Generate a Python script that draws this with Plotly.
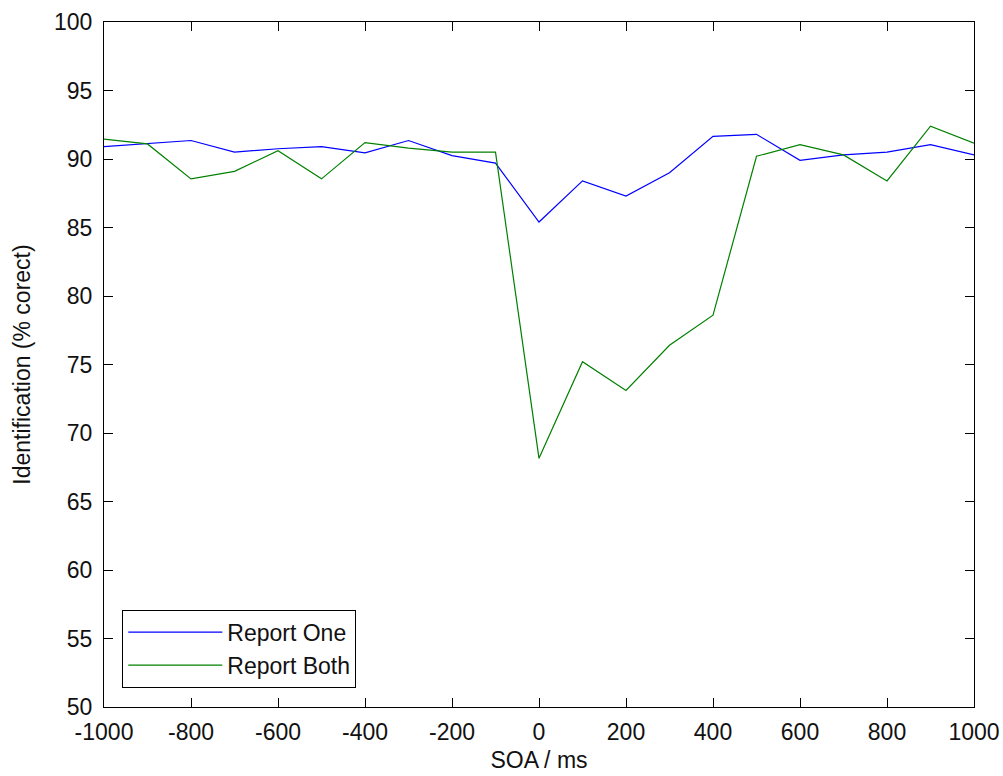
import plotly.graph_objects as go

soa = [-1000, -900, -800, -700, -600, -500, -400, -300, -200, -100, 0, 100, 200, 300, 400, 500, 600, 700, 800, 900, 1000]
report_one = [90.9, 91.1, 91.35, 90.5, 90.75, 90.9, 90.45, 91.35, 90.25, 89.7, 85.4, 88.4, 87.3, 89.0, 91.65, 91.8, 89.9, 90.3, 90.5, 91.05, 90.3]
report_both = [91.45, 91.1, 88.55, 89.1, 90.6, 88.55, 91.2, 90.8, 90.5, 90.5, 68.15, 75.2, 73.1, 76.4, 78.6, 90.2, 91.05, 90.3, 88.4, 92.4, 91.15]

xticks = list(range(-1000, 1001, 200))
yticks = list(range(50, 101, 5))

FONT = "Liberation Sans, Arial, sans-serif"
FS = 23

fig = go.Figure()
fig.add_trace(go.Scatter(x=soa, y=report_one, mode="lines", name="Report One",
                         line=dict(color="#0000ff", width=1.2)))
fig.add_trace(go.Scatter(x=soa, y=report_both, mode="lines", name="Report Both",
                         line=dict(color="#008000", width=1.2)))

axis_common = dict(showgrid=False, zeroline=False, showline=True, linecolor="black",
                   linewidth=1, mirror="ticks", ticks="inside", ticklen=9,
                   automargin=False,
                   tickcolor="black", tickfont=dict(family=FONT, size=FS, color="#111"))

fig.update_layout(
    width=1003, height=776,
    margin=dict(l=104, r=29, t=22, b=69),
    paper_bgcolor="white", plot_bgcolor="white",
    font=dict(family=FONT, size=FS, color="#111"),
    xaxis=dict(range=[-1000, 1000], tickvals=xticks, ticktext=[str(v) for v in xticks],
               ticklabelstandoff=4,
               title=dict(text="SOA / ms", standoff=8, font=dict(size=FS)), **axis_common),
    yaxis=dict(range=[50, 100], tickvals=yticks, ticktext=[str(v) for v in yticks],
               ticklabelstandoff=6,
               title=dict(text="Identification (% corect)", standoff=16, font=dict(size=FS)), **axis_common),
    legend=dict(x=0.021, y=0.142, xanchor="left", yanchor="top",
                bgcolor="white", bordercolor="black", borderwidth=1,
                font=dict(size=FS), itemwidth=94),
    showlegend=True,
)

fig.write_html("out.html")
